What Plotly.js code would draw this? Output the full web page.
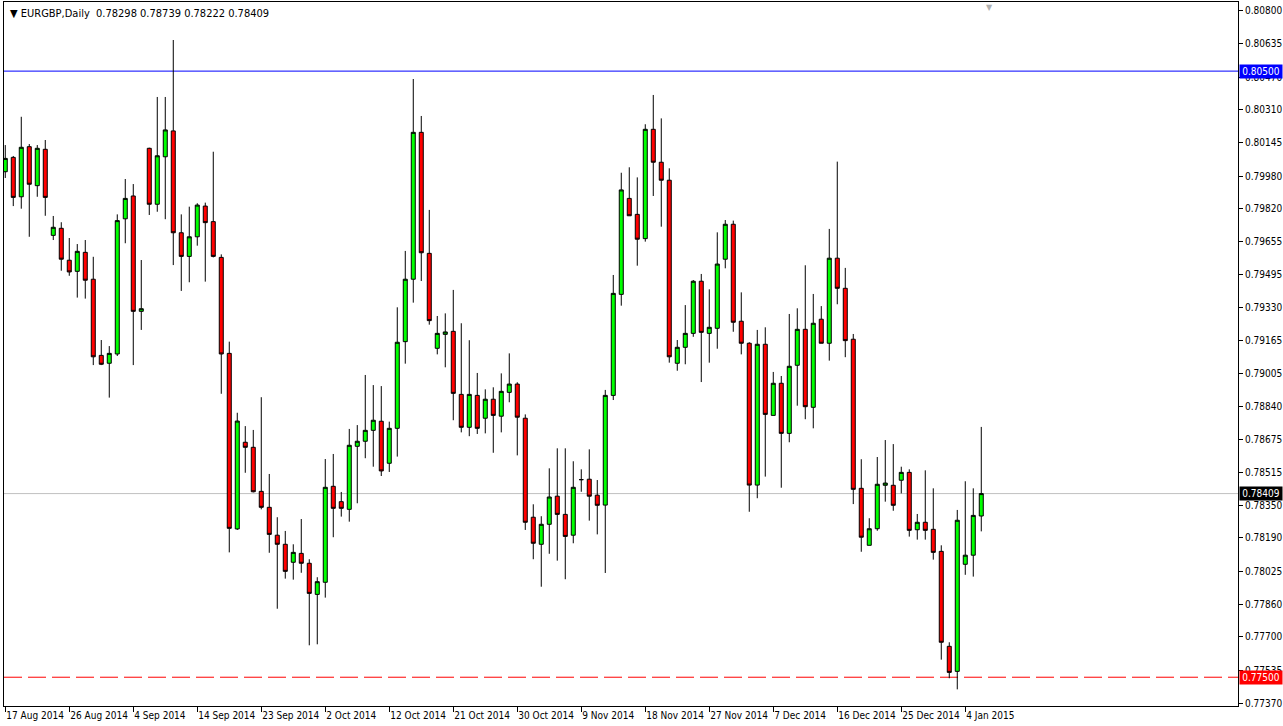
<!DOCTYPE html>
<html><head><meta charset="utf-8">
<script src="https://cdn.plot.ly/plotly-3.0.1.min.js"></script>
<style>html,body{margin:0;padding:0;background:#fff;overflow:hidden}#chart{width:1283px;height:726px}</style>
</head><body><div id="chart"></div>
<script>
const symbolTitle = 'EURGBP,Daily';
const dateLabels = ['17 Aug 2014','26 Aug 2014','4 Sep 2014','14 Sep 2014','23 Sep 2014','2 Oct 2014','12 Oct 2014','21 Oct 2014','30 Oct 2014','9 Nov 2014','18 Nov 2014','27 Nov 2014','7 Dec 2014','16 Dec 2014','25 Dec 2014','4 Jan 2015'];
const labelBars = [0,8,16,24,32,40,48,56,64,72,80,88,96,104,112,120];

const opens = [
0.80002,0.80073,0.79878,0.80126,0.79933,0.80113,0.79687,0.79722,0.79564,0.79509,
0.79603,0.79470,0.79093,0.79054,0.79100,0.79769,0.79882,0.79311,0.80118,0.79841,
0.80076,0.80204,0.79700,0.79583,0.79680,0.79832,0.79755,0.79578,0.79103,0.78234,
0.78663,0.78638,0.78420,0.78341,0.78203,0.78158,0.78069,0.78113,0.78064,0.77910,
0.77970,0.78445,0.78369,0.78331,0.78643,0.78668,0.78722,0.78767,0.78559,0.78732,
0.79161,0.79470,0.80197,0.79598,0.79128,0.79197,0.79212,0.78900,0.78737,0.78895,
0.78782,0.78876,0.78792,0.78910,0.78951,0.78782,0.78292,0.78158,0.78257,0.78396,
0.78306,0.78203,0.78478,0.78480,0.78401,0.78352,0.78895,0.79395,0.79870,0.79791,
0.79671,0.80212,0.80049,0.79960,0.79054,0.79133,0.79202,0.79460,0.79202,0.79227,
0.79569,0.79742,0.79262,0.79153,0.78451,0.79148,0.78796,0.78955,0.78707,0.79044,
0.79222,0.78836,0.79272,0.79153,0.79574,0.79425,0.79173,0.78435,0.78153,0.78235,
0.78450,0.78450,0.78475,0.78514,0.78230,0.78267,0.78232,0.78123,0.77653,0.77529,
0.78059,0.78104,0.78298];
const highs = [
0.80134,0.80080,0.80274,0.80139,0.80134,0.80159,0.79783,0.79752,0.79674,0.79644,
0.79664,0.79581,0.79169,0.79139,0.79791,0.79966,0.79941,0.79565,0.80121,0.80372,
0.80372,0.80654,0.79791,0.79829,0.79846,0.79849,0.80101,0.79593,0.79161,0.78809,
0.78743,0.78724,0.78886,0.78506,0.78292,0.78224,0.78158,0.78283,0.78084,0.77995,
0.78580,0.78605,0.78417,0.78729,0.78748,0.78996,0.78946,0.78941,0.78765,0.79331,
0.79610,0.80461,0.80278,0.79813,0.79288,0.79301,0.79417,0.79252,0.79168,0.79006,
0.78925,0.78935,0.79004,0.79103,0.78960,0.78801,0.78356,0.78297,0.78534,0.78633,
0.78633,0.78569,0.78529,0.78628,0.78476,0.78922,0.79491,0.79997,0.80024,0.79974,
0.80237,0.80382,0.80266,0.80019,0.79169,0.79342,0.79466,0.79496,0.79420,0.79702,
0.79763,0.79760,0.79405,0.79158,0.79219,0.79232,0.79011,0.78991,0.79298,0.79326,
0.79539,0.79397,0.79337,0.79719,0.80052,0.79526,0.79199,0.78579,0.78287,0.78590,
0.78674,0.78654,0.78542,0.78529,0.78308,0.78524,0.78435,0.78153,0.77673,0.78328,
0.78470,0.78435,0.78739];
const lows = [
0.79971,0.79832,0.79819,0.79680,0.79878,0.79784,0.79664,0.79512,0.79487,0.79379,
0.79374,0.79045,0.79045,0.78884,0.79090,0.79648,0.79045,0.79219,0.79788,0.79804,
0.79767,0.79540,0.79412,0.79455,0.79636,0.79458,0.79578,0.78903,0.78118,0.78229,
0.78512,0.78415,0.78331,0.78116,0.77839,0.77988,0.77983,0.78017,0.77658,0.77663,
0.77894,0.78193,0.78295,0.78270,0.78361,0.78584,0.78542,0.78496,0.78516,0.78592,
0.79052,0.79354,0.79461,0.79245,0.79098,0.79034,0.78772,0.78712,0.78693,0.78704,
0.78707,0.78611,0.78712,0.78861,0.78598,0.78229,0.78084,0.77948,0.78111,0.78077,
0.77985,0.78163,0.78418,0.78275,0.78207,0.78016,0.78872,0.79339,0.79784,0.79537,
0.79656,0.79882,0.79730,0.79057,0.79017,0.79049,0.79185,0.78961,0.79057,0.79126,
0.79524,0.79210,0.79098,0.78319,0.78386,0.78493,0.78796,0.78438,0.78663,0.78844,
0.78777,0.78732,0.79153,0.79067,0.79346,0.79084,0.78357,0.78121,0.78153,0.78225,
0.78369,0.78324,0.78410,0.78196,0.78181,0.78181,0.78082,0.77587,0.77495,0.77440,
0.78007,0.77998,0.78222];
const closes = [
0.80068,0.79875,0.80123,0.79940,0.80118,0.79875,0.79727,0.79569,0.79506,0.79608,
0.79465,0.79086,0.79049,0.79103,0.79760,0.79870,0.79311,0.79324,0.79841,0.80081,
0.80209,0.79700,0.79583,0.79680,0.79837,0.79750,0.79583,0.79100,0.78237,0.78768,
0.78638,0.78418,0.78341,0.78207,0.78158,0.78024,0.78118,0.78064,0.77915,0.77973,
0.78440,0.78336,0.78336,0.78648,0.78668,0.78722,0.78772,0.78521,0.78732,0.79158,
0.79470,0.80197,0.79601,0.79265,0.79202,0.79209,0.78905,0.78737,0.78900,0.78732,
0.78876,0.78796,0.78915,0.78951,0.78787,0.78267,0.78163,0.78257,0.78392,0.78306,
0.78197,0.78440,0.78478,0.78396,0.78351,0.78895,0.79400,0.79912,0.79784,0.79668,
0.80212,0.80049,0.79960,0.79086,0.79133,0.79202,0.79460,0.79207,0.79232,0.79545,
0.79742,0.79257,0.79153,0.78451,0.79148,0.78801,0.78955,0.78707,0.79039,0.79222,
0.78839,0.79252,0.79153,0.79574,0.79425,0.79166,0.78430,0.78193,0.78235,0.78455,
0.78461,0.78351,0.78514,0.78227,0.78267,0.78227,0.78118,0.77673,0.77524,0.78277,
0.78104,0.78301,0.78409];

const priceTicks = [0.80800,0.80635,0.80470,0.80310,0.80145,0.79980,0.79820,0.79655,0.79495,0.79330,0.79165,0.79005,0.78840,0.78675,0.78515,0.78350,0.78190,0.78025,0.77860,0.77700,0.77535,0.77370];
const priceTickText = ['0.80800','0.80635','0.80470','0.80310','0.80145','0.79980','0.79820','0.79655','0.79495','0.79330','0.79165','0.79005','0.78840','0.78675','0.78515','0.78350','0.78190','0.78025','0.77860','0.77700','0.77535','0.77370'];

const resistanceLevel = 0.80500;
const supportLevel = 0.77500;

const bars = opens.map((_, i) => i);
const last = opens.length - 1;
const bid = closes[last];

const FONT = 'DejaVu Sans Condensed, Liberation Sans Narrow, Liberation Sans, Arial, sans-serif';

const trace = {
  type: 'candlestick',
  x: bars, open: opens, high: highs, low: lows, close: closes,
  increasing: {line: {color: '#000000', width: 1}, fillcolor: '#00FF00'},
  decreasing: {line: {color: '#000000', width: 1}, fillcolor: '#FF0000'},
  whiskerwidth: 0,
  hoverinfo: 'skip',
  showlegend: false
};

const fmt = v => v.toFixed(5);

const layout = {
  width: 1283, height: 726,
  margin: {l: 4, r: 45, t: 2, b: 20, pad: 0},
  paper_bgcolor: '#ffffff', plot_bgcolor: '#ffffff',
  boxgap: 0.5, boxgroupgap: 0,
  showlegend: false,
  xaxis: {
    range: [-0.16, 154.09],
    rangeslider: {visible: false},
    tickmode: 'array', tickvals: labelBars, ticktext: dateLabels,
    ticks: 'outside', ticklen: 5, tickcolor: '#000', tickwidth: 1,
    ticklabelposition: 'outside right',
    tickangle: 0, automargin: false,
    tickfont: {family: FONT, size: 10, color: '#000'},
    showgrid: false, zeroline: false,
    showline: true, mirror: true, linecolor: '#000', linewidth: 1,
    fixedrange: true
  },
  yaxis: {
    side: 'right',
    range: [0.773576, 0.808421],
    automargin: false,
    tickmode: 'array', tickvals: priceTicks, ticktext: priceTickText,
    ticks: 'outside', ticklen: 4, tickcolor: '#000', tickwidth: 1,
    tickfont: {family: FONT, size: 10, color: '#000'},
    showgrid: false, zeroline: false,
    showline: true, mirror: true, linecolor: '#000', linewidth: 1,
    fixedrange: true
  },
  shapes: [
    {type: 'line', xref: 'paper', x0: 0, x1: 1, yref: 'y', y0: resistanceLevel, y1: resistanceLevel,
     line: {color: '#0000FF', width: 1}, layer: 'below'},
    {type: 'line', xref: 'paper', x0: 0, x1: 1, yref: 'y', y0: bid, y1: bid,
     line: {color: '#C0C0C0', width: 1}, layer: 'below'},
    {type: 'line', xref: 'paper', x0: 0, x1: 1, yref: 'y', y0: supportLevel, y1: supportLevel,
     line: {color: '#FF0000', width: 1, dash: '18px,6px'}, layer: 'below'}
  ],
  annotations: [
    {xref: 'paper', yref: 'paper', x: 0, y: 1, xanchor: 'left', yanchor: 'top', xshift: 4, yshift: -3,
     showarrow: false, align: 'left',
     text: '▼ ' + symbolTitle + '  ' + [opens[last], highs[last], lows[last], closes[last]].map(fmt).join(' '),
     font: {family: FONT, size: 11, color: '#000'}},
    {xref: 'paper', yref: 'y', x: 1, y: resistanceLevel, xanchor: 'left', yanchor: 'middle', xshift: 1,
     showarrow: false, text: fmt(resistanceLevel), bgcolor: '#0000FF', borderpad: 1, width: 40,
     font: {family: FONT, size: 10, color: '#fff'}},
    {xref: 'paper', yref: 'y', x: 1, y: bid, xanchor: 'left', yanchor: 'middle', xshift: 1,
     showarrow: false, text: fmt(bid), bgcolor: '#000000', borderpad: 1, width: 40,
     font: {family: FONT, size: 10, color: '#fff'}},
    {xref: 'paper', yref: 'y', x: 1, y: supportLevel, xanchor: 'left', yanchor: 'middle', xshift: 1,
     showarrow: false, text: fmt(supportLevel), bgcolor: '#FF0000', borderpad: 1, width: 40,
     font: {family: FONT, size: 10, color: '#fff'}},
    {xref: 'paper', yref: 'paper', x: 0.799, y: 1, xanchor: 'center', yanchor: 'top', yshift: 1,
     showarrow: false, text: '▼', font: {family: 'DejaVu Sans', size: 8, color: '#B0B0B0'}}
  ]
};

Plotly.newPlot('chart', [trace], layout, {staticPlot: true, displayModeBar: false});
</script>
</body></html>
